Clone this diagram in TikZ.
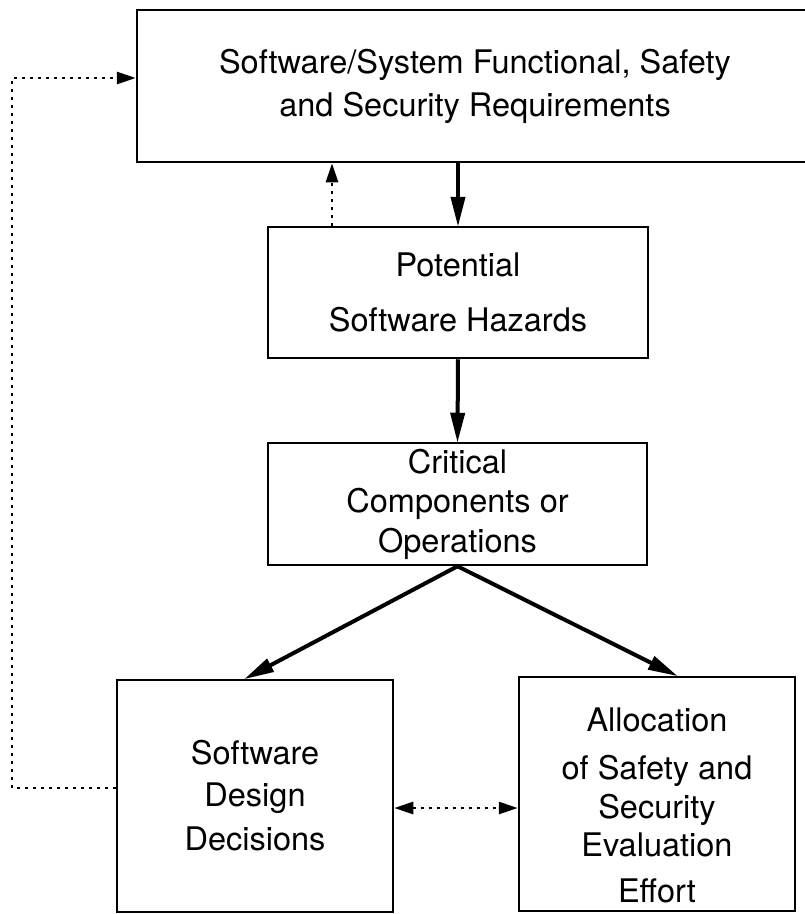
\documentclass[tikz,border=0pt]{standalone}
\usepackage{fontspec}
\setmainfont{TeX Gyre Heros}
\usetikzlibrary{arrows.meta}
\begin{document}
\begin{tikzpicture}[x=1pt,y=-1pt,
  boxnode/.style={draw, line width=2.5pt, inner sep=0pt, align=center},
  solidarrow/.style={line width=4pt, -{Triangle[length=30pt,width=14pt]}, shorten >=-1pt},
  dotline/.style={line width=2.8pt, dash pattern=on 3pt off 5pt},
  dottip/.style={-{Triangle[length=19pt,width=12pt]}},
  every node/.style={font=\fontsize{32.5}{42}\selectfont}
]
\useasboundingbox (0,0) rectangle (805,914);
\node[boxnode, minimum width=676pt, minimum height=152pt] (req) at (475,86)
  {Software/System Functional, Safety\\[1pt]and Security Requirements};
\node[boxnode, minimum width=380pt, minimum height=131pt] (haz) at (458,292.5)
  {Potential\\[13pt]Software Hazards};
\node[boxnode, minimum width=379pt, minimum height=122pt] (crit) at (457.5,504)
  {Critical\\[-3pt]Components or\\[-2pt]Operations};
\node[boxnode, minimum width=276pt, minimum height=232pt] (sdd) at (255,796)
  {Software\\Design\\[2pt]Decisions};
\node[boxnode, minimum width=276pt, minimum height=234pt] (alloc) at (657,794) {};
\node[align=center, inner sep=0pt] (alloctxt) at (657,805)
  {Allocation\\[6pt]of Safety and\\[-3pt]Security\\[-4pt]Evaluation\\[4pt]Effort};
% solid arrows
\draw[solidarrow] (req.south -| haz.north) -- (haz.north);
\draw[solidarrow] (haz.south) -- (crit.north);
\coordinate (t4) at (245,0);
\coordinate (t5) at (677,0);
\draw[solidarrow] (crit.south) -- (sdd.north -| t4);
\draw[solidarrow] (crit.south) -- (alloc.north -| t5);
% dotted arrows
\coordinate (up) at (332,0);
\draw[dotline, dottip] (haz.north -| up) -- (req.south -| up);
\coordinate (fbL) at (12,788);
\coordinate (fbT) at (12,78);
\draw[dotline, dottip] (fbL -| sdd.west) -- (fbL) -- (fbT) -- (fbT -| req.west);
\coordinate (dd) at (0,808);
\draw[dotline, {Triangle[length=19pt,width=12pt]}-{Triangle[length=19pt,width=12pt]}] (sdd.east |- dd) -- (alloc.west |- dd);
\end{tikzpicture}
\end{document}
